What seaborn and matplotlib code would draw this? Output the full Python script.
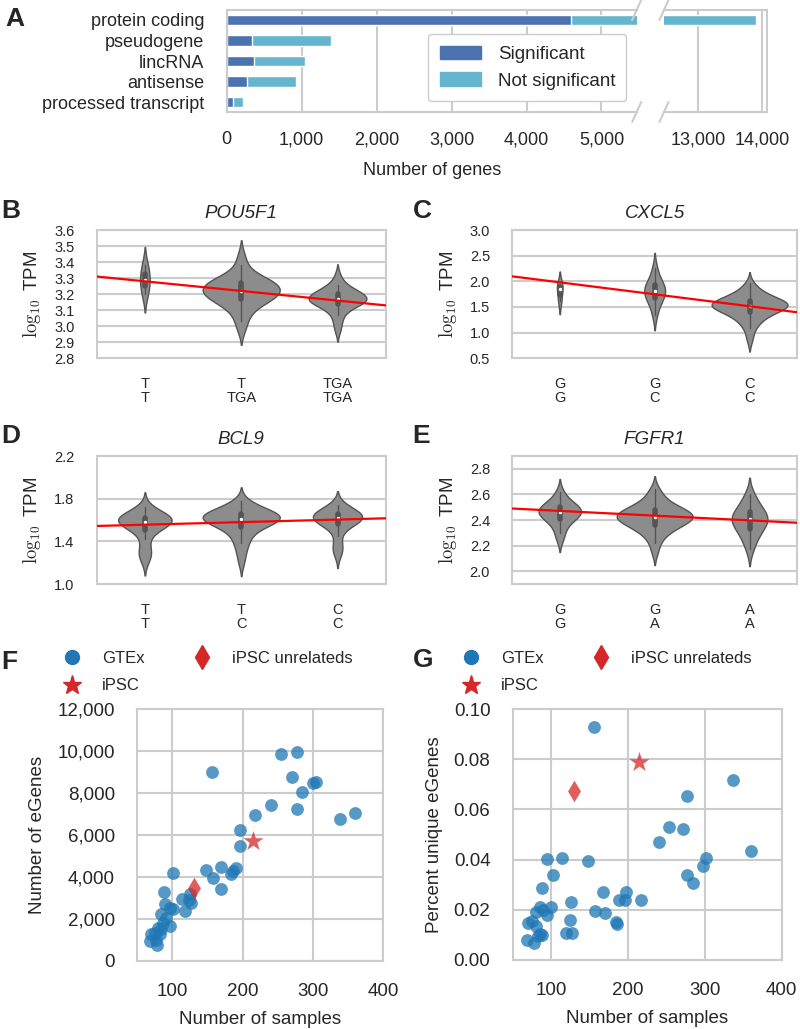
import numpy as np
import pandas as pd
import seaborn as sns
import matplotlib.pyplot as plt
from matplotlib.lines import Line2D
from matplotlib.patches import Patch
from matplotlib.ticker import FuncFormatter

# Panel A - genes by biotype
biotypes = ["protein coding", "pseudogene", "lincRNA", "antisense", "processed transcript"]
n_significant = [4590, 333, 364, 271, 89]
n_total = [13900, 1387, 1044, 924, 222]

# Panels B-E - expression (log10 TPM) per genotype
pou5f1_geno = ["T\nT", "T\nTGA", "TGA\nTGA"]
pou5f1_expr = [
    [3.20, 3.27, 3.31, 3.38],
    [2.98, 3.03, 3.07, 3.10, 3.12, 3.14, 3.15, 3.16, 3.17, 3.18, 3.18, 3.19, 3.20, 3.20,
     3.21, 3.22, 3.22, 3.23, 3.24, 3.24, 3.25, 3.26, 3.26, 3.27, 3.28, 3.28, 3.29, 3.30,
     3.31, 3.34, 3.38, 3.44],
    [2.98, 3.03, 3.07, 3.10, 3.12, 3.13, 3.14, 3.15, 3.15, 3.16, 3.16, 3.17, 3.17, 3.18,
     3.18, 3.19, 3.19, 3.20, 3.21, 3.22, 3.23, 3.24, 3.26, 3.31],
]
pou5f1_fit = [3.28, -0.06]  # intercept, slope

cxcl5_geno = ["G\nG", "G\nC", "C\nC"]
cxcl5_expr = [
    [1.62, 1.86, 1.93],
    [1.35, 1.55, 1.65, 1.70, 1.75, 1.82, 1.86, 1.90, 1.96, 2.05, 2.25],
    [0.85, 1.00, 1.10, 1.17, 1.22, 1.26, 1.29, 1.32, 1.35, 1.38, 1.40, 1.42, 1.44, 1.45,
     1.46, 1.48, 1.49, 1.50, 1.51, 1.52, 1.53, 1.54, 1.55, 1.56, 1.57, 1.58, 1.59, 1.60,
     1.61, 1.62, 1.64, 1.66, 1.68, 1.70, 1.72, 1.75, 1.78, 1.82, 1.88, 1.96],
]
cxcl5_fit = [1.98, -0.233]

bcl9_geno = ["T\nT", "T\nC", "C\nC"]
bcl9_expr = [
    [1.22, 1.27, 1.30, 1.33, 1.42, 1.48, 1.51, 1.53, 1.55, 1.56, 1.57, 1.58, 1.58, 1.59,
     1.60, 1.60, 1.61, 1.62, 1.62, 1.63, 1.64, 1.65, 1.66, 1.68, 1.72],
    [1.20, 1.28, 1.34, 1.38, 1.42, 1.45, 1.48, 1.50, 1.52, 1.54, 1.55, 1.56, 1.57, 1.58,
     1.59, 1.60, 1.60, 1.61, 1.61, 1.62, 1.62, 1.63, 1.63, 1.64, 1.64, 1.65, 1.65, 1.66,
     1.67, 1.68, 1.69, 1.70, 1.71, 1.73, 1.75, 1.78],
    [1.28, 1.33, 1.36, 1.45, 1.52, 1.55, 1.57, 1.58, 1.59, 1.60, 1.61, 1.62, 1.62, 1.63,
     1.64, 1.64, 1.65, 1.66, 1.67, 1.68, 1.70, 1.72, 1.74],
]
bcl9_fit = [1.556, 0.024]

fgfr1_geno = ["G\nG", "G\nA", "A\nA"]
fgfr1_expr = [
    [2.25, 2.30, 2.35, 2.38, 2.40, 2.42, 2.43, 2.44, 2.45, 2.46, 2.47, 2.48, 2.49, 2.50,
     2.51, 2.52, 2.54, 2.57, 2.62],
    [2.15, 2.22, 2.26, 2.29, 2.31, 2.33, 2.34, 2.35, 2.36, 2.37, 2.38, 2.39, 2.40, 2.40,
     2.41, 2.42, 2.42, 2.43, 2.43, 2.44, 2.44, 2.45, 2.45, 2.46, 2.47, 2.48, 2.49, 2.50,
     2.51, 2.52, 2.54, 2.57, 2.60, 2.64],
    [2.17, 2.24, 2.28, 2.31, 2.34, 2.36, 2.38, 2.40, 2.41, 2.42, 2.44, 2.46, 2.48, 2.51,
     2.55, 2.60],
]
fgfr1_fit = [2.471, -0.037]

# Panel F - number of eGenes vs sample size
gtex_n_f = [156, 255, 278, 271, 300, 304, 285, 278, 240, 217, 339, 360, 197, 196, 148,
            169, 158, 169, 184, 191, 187, 101, 125, 127, 113, 118, 124, 88, 89, 96,
            101, 84, 91, 96, 87, 80, 75, 70, 68, 77, 78, 82, 84]
gtex_egenes = [9000, 9850, 9930, 8770, 8480, 8530, 8020, 7220, 7410, 6930, 6770, 7060,
               6210, 5490, 4320, 4450, 3920, 3440, 4130, 4400, 4290, 4160, 3170, 2770,
               2960, 2370, 2880, 3280, 2690, 2530, 2450, 2210, 2050, 1650, 1810, 1570,
               1330, 1250, 930, 1010, 740, 1250, 1490]
ipsc_f = [215, 5730]
unrel_f = [131, 3460]

# Panel G - fraction of unique eGenes vs sample size
gtex_n_g = [156, 337, 277, 240, 253, 272, 277, 285, 298, 302, 360, 217, 197, 196, 188,
            184, 186, 167, 170, 157, 148, 95, 114, 102, 88, 126, 125, 119, 127, 85,
            89, 94, 100, 80, 70, 75, 80, 85, 88, 68, 78, 83]
gtex_unique = [0.093, 0.0717, 0.0652, 0.0469, 0.0529, 0.0521, 0.0338, 0.0307, 0.0376,
               0.0405, 0.0434, 0.0238, 0.0269, 0.0241, 0.0240, 0.0151, 0.0145, 0.0271,
               0.0187, 0.0195, 0.0394, 0.0401, 0.0405, 0.0338, 0.0287, 0.0231, 0.0160,
               0.0108, 0.0108, 0.0211, 0.0200, 0.0180, 0.0211, 0.0191, 0.0147, 0.0154,
               0.0134, 0.0104, 0.0098, 0.0078, 0.0068, 0.0094]
ipsc_g = [214, 0.079]
unrel_g = [130, 0.0672]

sns.set_style("whitegrid")
plt.rcParams["font.family"] = ["Liberation Sans", "DejaVu Sans"]
plt.rcParams["mathtext.fontset"] = "cm"
plt.rcParams["xtick.major.pad"] = 12.5
plt.rcParams["ytick.major.pad"] = 12.5
plt.rcParams["axes.linewidth"] = 1.5
plt.rcParams["grid.linewidth"] = 1.5

W, H = 800, 1029
fig = plt.figure(figsize=(W / 100, H / 100), dpi=100)


def add_ax(x0, y0, x1, y1):
    # pixel box -> figure fraction
    return fig.add_axes([x0 / W, 1 - y1 / H, (x1 - x0) / W, (y1 - y0) / H])


comma = FuncFormatter(lambda v, p: f"{v:,.0f}")

# ---------------- A ----------------
dark_blue = "#4c72b0"
light_blue = "#64b5cd"
axA1 = add_ax(226.7, 10, 636.7, 112)
axA2 = add_ax(664, 10, 766.7, 112)
dfA = pd.DataFrame({"biotype": biotypes, "sig": n_significant, "total": n_total})
for ax in (axA1, axA2):
    sns.barplot(data=dfA, x="total", y="biotype", color=light_blue, saturation=1,
                width=0.5, errorbar=None, ax=ax)
    sns.barplot(data=dfA, x="sig", y="biotype", color=dark_blue, saturation=1,
                width=0.5, errorbar=None, ax=ax)
    ax.set_ylabel("")
    ax.set_xlabel("")
    ax.tick_params(labelsize=13)
    ax.xaxis.set_major_formatter(comma)
axA1.set_xlim(0, 5470)
axA2.set_xlim(12460, 14075)
axA1.set_xticks([0, 1000, 2000, 3000, 4000, 5000])
axA2.set_xticks([13000, 14000])
axA2.tick_params(labelleft=False)
axA1.tick_params(axis="x", pad=10.5)
axA2.tick_params(axis="x", pad=10.5)
axA1.spines["right"].set_visible(False)
axA2.spines["left"].set_visible(False)
axA1.set_xlabel("Number of genes", fontsize=13, labelpad=10)

handles = [Patch(color=dark_blue, label="Significant"),
           Patch(color=light_blue, label="Not significant")]
axA1.legend(handles=handles, loc="lower right", bbox_to_anchor=(0.975, 0.108),
            borderaxespad=0, fontsize=13.5, handlelength=2.2, handleheight=0.75,
            handletextpad=0.9, borderpad=0.6, labelspacing=0.5, framealpha=1)

# broken axis marks
for ax, x0, dx in ((axA1, 1, 0.011), (axA2, 0, 0.044)):
    for y0 in (0, 1):
        ax.plot([x0 - dx, x0 + dx], [y0 - 0.098, y0 + 0.098], transform=ax.transAxes,
                color=".8", lw=1.5, clip_on=False)

# ---------------- B-E ----------------
violin_grey = "#8c8c8c"


def violin_panel(ax, genotypes, samples, fit, gene, ylim, yticks):
    # violin width proportional to the number of samples (old scale="count")
    n_max = max(len(s) for s in samples)
    for g, s in zip(genotypes, samples):
        sns.violinplot(x=[g] * len(s), y=s, order=genotypes, color=violin_grey,
                       density_norm="width", width=0.8 * len(s) / n_max, inner="box",
                       linewidth=1, inner_kws=dict(box_width=4, whis_width=1, marker="."),
                       ax=ax)
    ax.axline((0, fit[0]), slope=fit[1], color="red", lw=1.6, zorder=5)
    ax.set_xlim(-0.5, 2.5)
    ax.set_ylim(*ylim)
    ax.set_yticks(yticks)
    ax.yaxis.set_major_formatter(FuncFormatter(lambda v, p: f"{v:.1f}"))
    ax.set_xlabel("")
    ax.set_ylabel(r"$\log_{10}$ TPM", fontsize=13.5, labelpad=8)
    ax.set_title(gene, fontsize=13.5, style="italic", pad=9)
    ax.tick_params(axis="y", labelsize=10.5)
    ax.tick_params(axis="x", labelsize=10.5, pad=10)
    for t in ax.get_xticklabels():
        t.set_linespacing(1.0)


axB = add_ax(96.7, 230, 385.7, 358.3)
violin_panel(axB, pou5f1_geno, pou5f1_expr, pou5f1_fit, "POU5F1", (2.8, 3.6),
             [2.8, 2.9, 3.0, 3.1, 3.2, 3.3, 3.4, 3.5, 3.6])
axC = add_ax(512.3, 230, 797, 358.3)
violin_panel(axC, cxcl5_geno, cxcl5_expr, cxcl5_fit, "CXCL5", (0.5, 3.0),
             [0.5, 1.0, 1.5, 2.0, 2.5, 3.0])
axD = add_ax(96.7, 456, 385.7, 584)
violin_panel(axD, bcl9_geno, bcl9_expr, bcl9_fit, "BCL9", (1.0, 2.2),
             [1.0, 1.4, 1.8, 2.2])
axE = add_ax(512.3, 456, 797, 584)
violin_panel(axE, fgfr1_geno, fgfr1_expr, fgfr1_fit, "FGFR1", (1.9, 2.9),
             [2.0, 2.2, 2.4, 2.6, 2.8])

# ---------------- F-G ----------------
gtex_blue = "#1f77b4"
ipsc_red = "#d62728"


def scatter_panel(ax, xs, ys, ipsc, unrel, ylabel, ylim, yticks, fmt, legend_x):
    sns.scatterplot(x=xs, y=ys, color=gtex_blue, s=85, alpha=0.75, linewidth=0, ax=ax)
    sns.scatterplot(x=[ipsc[0]], y=[ipsc[1]], marker="*", color=ipsc_red, s=230,
                    alpha=0.75, linewidth=0, ax=ax)
    sns.scatterplot(x=[unrel[0]], y=[unrel[1]], marker="d", color=ipsc_red, s=120,
                    alpha=0.75, linewidth=0, ax=ax)
    ax.set_xlim(50, 400)
    ax.set_xticks([100, 200, 300, 400])
    ax.set_ylim(*ylim)
    ax.set_yticks(yticks)
    ax.yaxis.set_major_formatter(fmt)
    ax.tick_params(labelsize=13.5)
    ax.set_xlabel("Number of samples", fontsize=13.5, labelpad=8)
    ax.set_ylabel(ylabel, fontsize=13.5, labelpad=8)
    hs = [Line2D([], [], marker="o", ls="", color=gtex_blue, markersize=10, label="GTEx"),
          Line2D([], [], marker="*", ls="", color=ipsc_red, markersize=14, label="iPSC"),
          Line2D([], [], marker="d", ls="", color=ipsc_red, markersize=12,
                 label="iPSC unrelateds")]
    ax.legend(handles=hs, ncol=2, loc="upper left", frameon=False, fontsize=12,
              bbox_to_anchor=(legend_x / W, 1 - 651 / H), bbox_transform=fig.transFigure,
              borderpad=0, borderaxespad=0, handlelength=1.0, handletextpad=1.3,
              columnspacing=2.9, labelspacing=0.75)


axF = add_ax(137.3, 709, 383, 960.7)
scatter_panel(axF, gtex_n_f, gtex_egenes, ipsc_f, unrel_f, "Number of eGenes",
              (0, 12000), [0, 2000, 4000, 6000, 8000, 10000, 12000], comma, 64)
axG = add_ax(512.7, 709, 781.7, 960)
scatter_panel(axG, gtex_n_g, gtex_unique, ipsc_g, unrel_g, "Percent unique eGenes",
              (0, 0.10), [0, 0.02, 0.04, 0.06, 0.08, 0.10],
              FuncFormatter(lambda v, p: f"{v:.2f}"), 463)

# panel letters
for letter, x, y in (("A", 15, 19), ("B", 11, 211), ("C", 422, 211), ("D", 11, 436),
                     ("E", 421, 436), ("F", 9, 662), ("G", 423, 660)):
    fig.text(x / W, 1 - y / H, letter, fontsize=19, fontweight="bold", color=".15",
             ha="center", va="center")

fig.savefig("out.png", dpi=100)
